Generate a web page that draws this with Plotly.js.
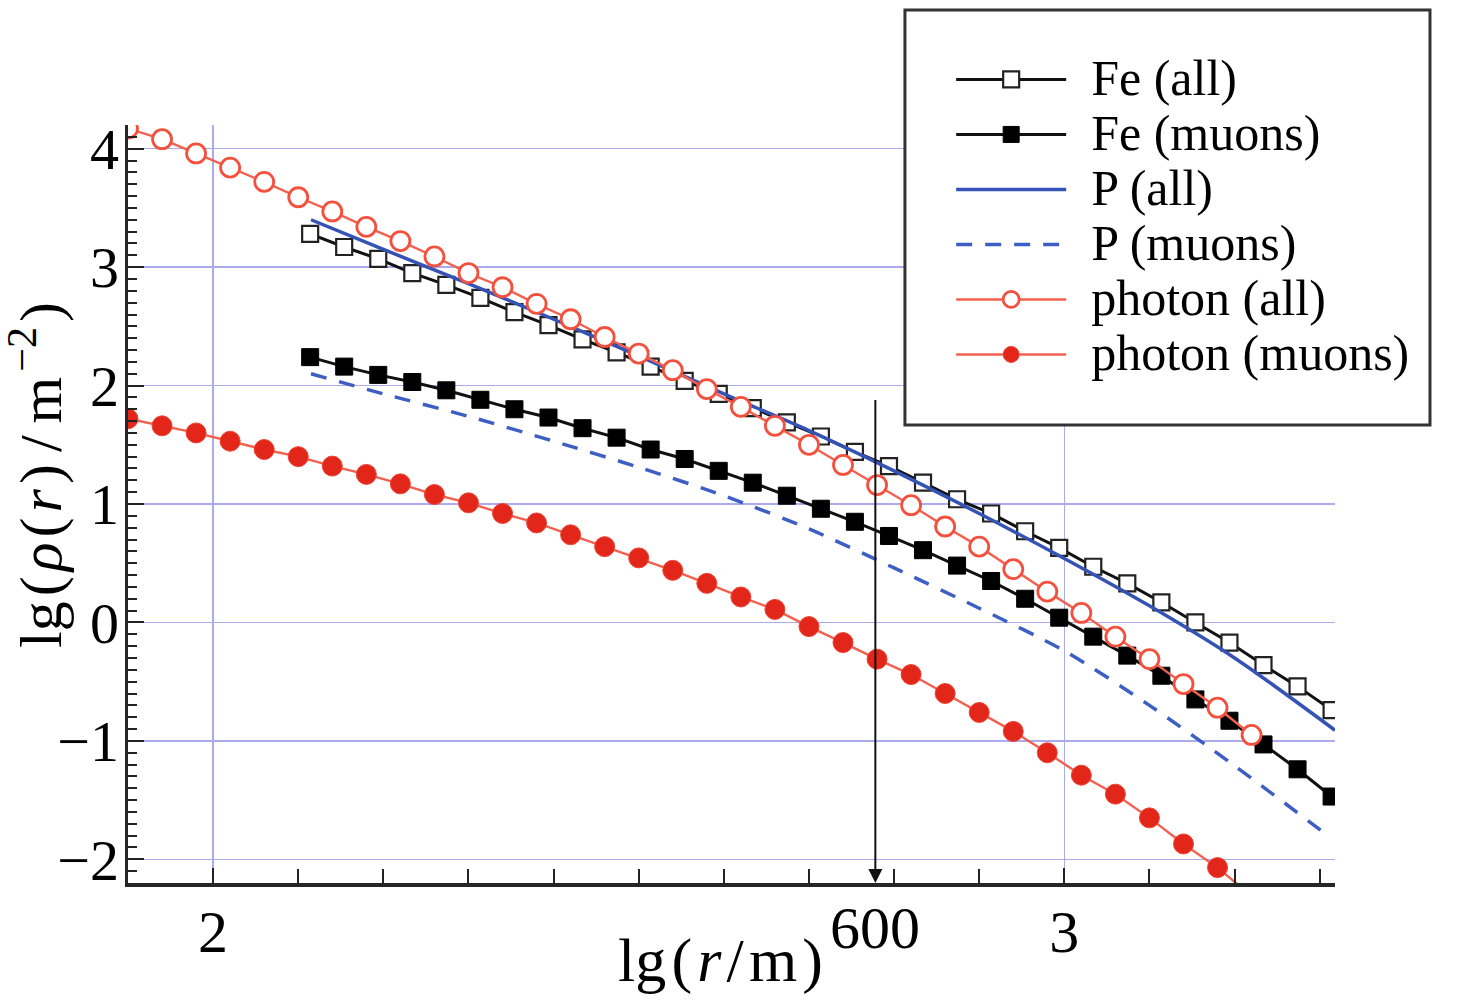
<!DOCTYPE html>
<html>
<head>
<meta charset="utf-8">
<script src="https://cdn.plot.ly/plotly-3.0.1.min.js"></script>
<style>
  html, body { margin: 0; padding: 0; background: #fff; }
  #chart { width: 1475px; height: 1000px; }
</style>
</head>
<body>
<div id="chart"></div>
<script>
// lg(r/m) sample positions
const photonX = [1.90, 1.94, 1.98, 2.02, 2.06, 2.10, 2.14, 2.18, 2.22, 2.26, 2.30, 2.34,
                 2.38, 2.42, 2.46, 2.50, 2.54, 2.58, 2.62, 2.66, 2.70, 2.74, 2.78, 2.82,
                 2.86, 2.90, 2.94, 2.98, 3.02, 3.06, 3.10, 3.14, 3.18, 3.22];
const feX = [2.114, 2.154, 2.194, 2.234, 2.274, 2.314, 2.354, 2.394, 2.434, 2.474, 2.514,
             2.554, 2.594, 2.634, 2.674, 2.714, 2.754, 2.794, 2.834, 2.874, 2.914, 2.954,
             2.994, 3.034, 3.074, 3.114, 3.154, 3.194, 3.234, 3.274, 3.314];
const pAllX = [2.115, 2.2, 2.3, 2.4, 2.5, 2.6, 2.7, 2.8, 2.9, 3.0, 3.1, 3.2, 3.318];
const pMuX  = [2.115, 2.2, 2.3, 2.4, 2.5, 2.6, 2.7, 2.8, 2.9, 3.0, 3.1, 3.2, 3.304];

// lg(rho/m^-2)
const feAll = [3.28, 3.17, 3.07, 2.95, 2.85, 2.74, 2.62, 2.51, 2.39, 2.28, 2.16,
               2.04, 1.93, 1.81, 1.69, 1.57, 1.44, 1.32, 1.18, 1.04, 0.92, 0.77,
               0.63, 0.47, 0.33, 0.17, 0.00, -0.17, -0.36, -0.54, -0.74];
const feMuons = [2.24, 2.16, 2.09, 2.03, 1.96, 1.88, 1.80, 1.73, 1.64, 1.56, 1.46,
                 1.38, 1.28, 1.18, 1.07, 0.96, 0.85, 0.73, 0.61, 0.48, 0.35, 0.20,
                 0.04, -0.12, -0.28, -0.45, -0.65, -0.83, -1.03, -1.24, -1.47];
const pAll   = [3.40, 3.15, 2.86, 2.56, 2.25, 1.93, 1.62, 1.28, 0.92, 0.54, 0.14, -0.30, -0.91];
const pMuons = [2.10, 1.93, 1.74, 1.53, 1.31, 1.07, 0.79, 0.46, 0.12, -0.24, -0.70, -1.21, -1.77];
const photonAll = [4.17, 4.08, 3.96, 3.84, 3.72, 3.59, 3.47, 3.34, 3.22, 3.09, 2.95, 2.83,
                   2.69, 2.56, 2.41, 2.27, 2.13, 1.97, 1.82, 1.66, 1.50, 1.33, 1.16, 0.99,
                   0.81, 0.64, 0.45, 0.26, 0.08, -0.12, -0.31, -0.52, -0.72, -0.95];
const photonMuons = [1.72, 1.66, 1.60, 1.53, 1.46, 1.40, 1.32, 1.25, 1.17, 1.08, 1.01, 0.92,
                     0.84, 0.74, 0.64, 0.545, 0.44, 0.33, 0.215, 0.11, -0.035, -0.17, -0.31, -0.44,
                     -0.60, -0.76, -0.92, -1.10, -1.29, -1.45, -1.65, -1.87, -2.07, -2.31];

const seriesNames = ['Fe (all)', 'Fe (muons)', 'P (all)', 'P (muons)', 'photon (all)', 'photon (muons)'];
const xTickVals = [2, 3];
const yTickVals = [-2, -1, 0, 1, 2, 3, 4];
const markR = 2.778;          // lg(600)
const markLabel = '600';

const SERIF = '"Liberation Serif", "DejaVu Serif", serif';
const GRID = '#ababee';
const TS = '\u2009';   // thin space, for the TeX-like spacing of the titles
const HS = '\u200A';   // hair space

// bigger text than the legend row height, so rows stay tight as in the figure
function legendName(s) {
    return '<span style="font-size:50px">\u2009\u2009' + s + '</span>';
}

const traces = [
    {
        x: feX, y: feAll, name: legendName(seriesNames[0]), type: 'scatter', mode: 'lines+markers',
        line: { color: '#111', width: 3 },
        marker: { symbol: 'square', size: 16, color: '#fff', line: { color: '#222', width: 2.2 } },
    },
    {
        x: feX, y: feMuons, name: legendName(seriesNames[1]), type: 'scatter', mode: 'lines+markers',
        line: { color: '#111', width: 3 },
        marker: { symbol: 'square', size: 17, color: '#000', line: { color: '#000', width: 1 } },
    },
    {
        x: pAllX, y: pAll, name: legendName(seriesNames[2]), type: 'scatter', mode: 'lines',
        line: { color: '#3553b5', width: 3.5, shape: 'spline', smoothing: 0.8 },
    },
    {
        x: pMuX, y: pMuons, name: legendName(seriesNames[3]), type: 'scatter', mode: 'lines',
        line: { color: '#3d5fc4', width: 3.5, dash: '16px,13px', shape: 'spline', smoothing: 0.8 },
    },
    {
        x: photonX, y: photonAll, name: legendName(seriesNames[4]), type: 'scatter', mode: 'lines+markers',
        line: { color: '#f2614f', width: 2.4 },
        marker: { symbol: 'circle', size: 19, color: '#fff', line: { color: '#f4503e', width: 2.8 } },
    },
    {
        x: photonX, y: photonMuons, name: legendName(seriesNames[5]), type: 'scatter', mode: 'lines+markers',
        line: { color: '#f2614f', width: 2.4 },
        marker: { symbol: 'circle', size: 20, color: '#e2261a', line: { color: '#ee4434', width: 1 } },
    },
];

const layout = {
    width: 1475,
    height: 1000,
    paper_bgcolor: '#fff',
    plot_bgcolor: '#fff',
    font: { family: SERIF, color: '#000', size: 60 },
    margin: { l: 128, r: 140, t: 125, b: 117 },
    showlegend: true,
    legend: {
        x: 0.682, y: 1.103, xanchor: 'left', yanchor: 'top',
        bgcolor: 'rgba(0,0,0,0)', borderwidth: 0,
        font: { family: SERIF, size: 40, color: '#000' },
        itemwidth: 110, tracegroupgap: 0,
    },
    xaxis: {
        range: [1.9, 3.318],
        tickvals: xTickVals,
        ticktext: xTickVals.map(String),
        ticks: 'inside', ticklen: 15, tickwidth: 2, tickcolor: '#222',
        minor: { dtick: 0.1, tick0: 2, ticks: 'inside', ticklen: 14, tickwidth: 2, tickcolor: '#222', showgrid: false },
        showline: true, linecolor: '#262626', linewidth: 3.5,
        showgrid: true, gridcolor: GRID, gridwidth: 1.5,
        zeroline: false,
        tickfont: { family: SERIF, size: 60 },
        ticklabelstandoff: -7,
    },
    yaxis: {
        range: [-2.2, 4.2],
        tickvals: yTickVals,
        ticks: 'inside', ticklen: 16, tickwidth: 2, tickcolor: '#222',
        minor: { dtick: 0.1, tick0: 0, ticks: 'inside', ticklen: 9, tickwidth: 2, tickcolor: '#222', showgrid: false },
        showline: true, linecolor: '#262626', linewidth: 3.5,
        showgrid: true, gridcolor: GRID, gridwidth: 1.5,
        zeroline: false,
        tickfont: { family: SERIF, size: 58 },
        ticklabelstandoff: -6,
    },
    shapes: [
        {
            type: 'rect', xref: 'paper', yref: 'paper', layer: 'above',
            x0: 0.6437, x1: 1.0787, y0: 0.6042, y1: 1.1517,
            fillcolor: '#fff', line: { color: '#333', width: 3 },
        },
    ],
    annotations: [
        {
            x: markR, y: -2.2, xref: 'x', yref: 'y',
            ax: markR, ay: 1.89, axref: 'x', ayref: 'y',
            text: '', showarrow: true, arrowhead: 2, arrowsize: 1.4, arrowwidth: 2,
            arrowcolor: '#111', standoff: 0,
        },
        {
            x: markR, y: 0, xref: 'x', yref: 'paper', yshift: -45,
            text: markLabel, showarrow: false, xanchor: 'center', yanchor: 'middle',
            font: { family: SERIF, size: 60, color: '#000' },
        },
        {
            x: 0.4905, y: -0.1016, xref: 'paper', yref: 'paper',
            text: 'lg' + HS + '(' + HS + '<i>r</i>' + HS + '/' + HS + 'm' + HS + ')',
            showarrow: false, xanchor: 'center', yanchor: 'middle',
            font: { family: SERIF, size: 62, color: '#000' },
        },
        {
            x: -0.0754, y: 0.5383, xref: 'paper', yref: 'paper',
            text: 'lg' + HS + '(' + HS + '<i>ρ</i>' + HS + '(' + HS + '<i>r</i>' + HS + ')' + TS + '/' + TS +
                  'm' + HS + '<sup>−2</sup>' + HS + ')',
            showarrow: false, textangle: -90,
            xanchor: 'center', yanchor: 'middle',
            font: { family: SERIF, size: 60, color: '#000' },
        },
    ],
};

Plotly.newPlot('chart', traces, layout, { displayModeBar: false, staticPlot: true });
</script>
</body>
</html>
